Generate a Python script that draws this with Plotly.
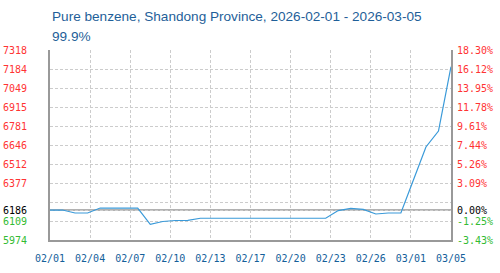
import pandas as pd
import plotly.graph_objects as go

# ---------------- data ----------------
title_line1 = "Pure benzene, Shandong Province, 2026-02-01 - 2026-03-05"
title_line2 = "99.9%"

dates = pd.date_range("2026-02-01", "2026-03-05", freq="D")
prices = [6186, 6186, 6165, 6165, 6200, 6200, 6200, 6200,
          6085, 6105, 6112, 6113,
          6128, 6128, 6128, 6128, 6128, 6128, 6128, 6128, 6128, 6128, 6128,
          6182, 6198, 6191,
          6158, 6165, 6165,
          6398, 6632, 6745, 7200]

base_price = 6186
base_label_left = "6186"
base_label_right = "0.00%"

y_min, y_max = 5974, 7318
n_grid = 10
grid_labels_left = ["5974", "6109", "", "6377", "6512", "6646", "6781",
                    "6915", "7049", "7184", "7318"]
grid_labels_right = ["-3.43%", "-1.25%", "", "3.09%", "5.26%", "7.44%", "9.61%",
                     "11.78%", "13.95%", "16.12%", "18.30%"]

x_tick_labels = ["02/01", "02/04", "02/07", "02/10", "02/13", "02/17",
                 "02/20", "02/23", "02/26", "03/01", "03/05"]

# ---------------- styling ----------------
RED = "#ff3333"
GREEN = "#33bb33"
BLACK = "#000000"
LINE = "#3a9ad9"
AXIS = "#999999"
GRID = "#cccccc"
XLAB = "#14609a"
TITLE = "#1f5f99"
MONO = "DejaVu Sans Mono"

W, H = 500, 273
ML, MR, MT, MB = 50, 49, 50, 33
plot_h = H - MT - MB

# y ticks
step = (y_max - y_min) / n_grid
grid_vals = [y_min + k * step for k in range(n_grid + 1)]


def colored(txt, v):
    if txt == "":
        return ""
    c = RED if v > base_price else (GREEN if v < base_price else BLACK)
    return f'<span style="color:{c}">{txt}</span>'


tickvals = grid_vals + [base_price]
ticktext_left = [colored(t, v) for t, v in zip(grid_labels_left, grid_vals)] + [colored(base_label_left, base_price)]
ticktext_right = [colored(t, v) for t, v in zip(grid_labels_right, grid_vals)] + [colored(base_label_right, base_price)]

# x ticks: labels evenly spaced over the date span
start, end = dates[0], dates[-1]
span = end - start
n_x = len(x_tick_labels) - 1
x_tickvals = [start + span * (k / n_x) for k in range(n_x + 1)]

fig = go.Figure()
fig.add_trace(go.Scatter(x=dates, y=prices, mode="lines",
                         line=dict(color=LINE, width=1.2),
                         hoverinfo="skip", showlegend=False))
fig.add_trace(go.Scatter(x=dates, y=prices, mode="lines", yaxis="y2",
                         opacity=0, line=dict(width=0.1),
                         hoverinfo="skip", showlegend=False))

fig.add_shape(type="line", xref="paper", x0=0, x1=1, yref="y",
              y0=base_price, y1=base_price,
              line=dict(color=AXIS, width=1.5), layer="below")


def py(ypix):
    return (H - MB - ypix) / plot_h


fig.add_annotation(text=title_line1, xref="paper", x=0, xanchor="left",
                   yref="paper", y=py(17), yanchor="middle", showarrow=False,
                   font=dict(family="Liberation Sans", size=13.6, color=TITLE))
fig.add_annotation(text=title_line2, xref="paper", x=0, xanchor="left",
                   yref="paper", y=py(36), yanchor="middle", showarrow=False,
                   font=dict(family="Liberation Sans", size=13.6, color=TITLE))

fig.update_layout(
    width=W, height=H,
    margin=dict(l=ML, r=MR, t=MT, b=MB, pad=0, autoexpand=False),
    paper_bgcolor="white", plot_bgcolor="white",
    hovermode=False,
    xaxis=dict(type="date", range=[start, end],
               tickvals=x_tickvals, ticktext=x_tick_labels,
               showgrid=True, gridcolor=GRID, gridwidth=1, griddash="3px,2px",
               showline=True, linecolor=AXIS, linewidth=2,
               ticks="outside", ticklen=0, ticklabelstandoff=8,
               tickfont=dict(family=MONO, size=10, color=XLAB),
               zeroline=False, fixedrange=True, automargin=False),
    yaxis=dict(range=[y_min, y_max], tickvals=tickvals, ticktext=ticktext_left,
               showgrid=True, gridcolor=GRID, gridwidth=1, griddash="3px,2px",
               showline=True, linecolor=AXIS, linewidth=2, mirror=True,
               ticks="outside", ticklen=0, ticklabelstandoff=19,
               tickfont=dict(family=MONO, size=10, color=BLACK),
               zeroline=False, fixedrange=True, automargin=False),
    yaxis2=dict(range=[y_min, y_max], overlaying="y", side="right",
                tickvals=tickvals, ticktext=ticktext_right,
                showgrid=False, showline=False,
                ticks="outside", ticklen=0, ticklabelstandoff=3,
                tickfont=dict(family=MONO, size=10, color=BLACK),
                zeroline=False, fixedrange=True, automargin=False),
)

fig.write_html("out.html", config={"displayModeBar": False})
